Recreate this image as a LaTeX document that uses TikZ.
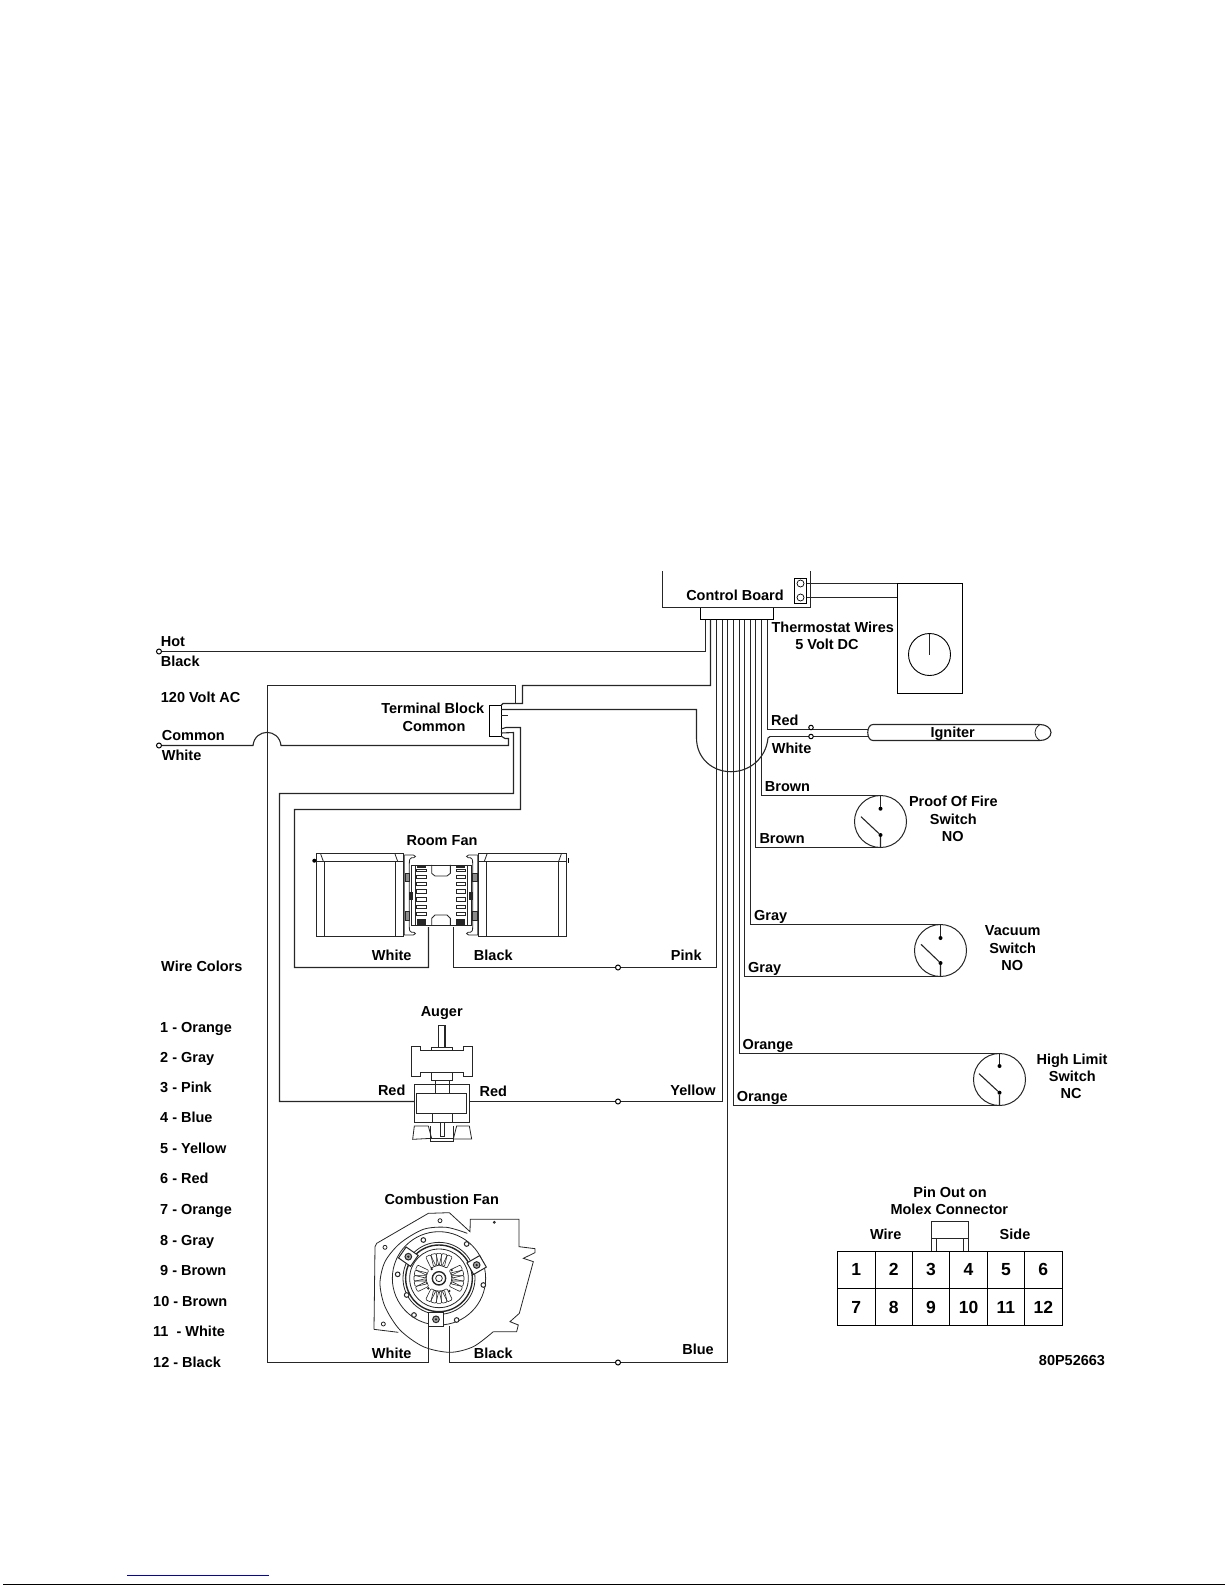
\documentclass[tikz,border=0pt]{standalone}
\usepackage{fontspec}
\setmainfont{Liberation Sans}
\tikzset{
	lbl/.style={font=\fontsize{14.5}{16}\selectfont\bfseries,inner sep=0,text height=10.4pt,text depth=0pt},
	wire/.style={line width=1.1pt,black!85},
	thin wire/.style={line width=.8pt,black!85},
	nut/.style={circle,draw,line width=1pt,fill=white,inner sep=0,minimum size=5pt},
	sw/.style={circle,draw,line width=1pt,black!85,inner sep=0,minimum size=52pt,outer sep=0},
	contact/.style={circle,fill=black,inner sep=0,minimum size=4pt},
	cell/.style={draw,line width=1pt,inner sep=0,minimum size=37.4pt,outer sep=0,font=\fontsize{17.5}{20}\selectfont\bfseries}
}
\begin{document}
\begin{tikzpicture}[x=1pt,y=-1pt]
	\useasboundingbox (0,0) rectangle (1225,1585);

	\foreach \p/\px in {1/705.5,2/710.5,3/716.5,4/722.5,5/727.5,6/733.5,7/739.5,8/744.5,9/750.5,10/755.5,11/761.5,12/767.5}
		\coordinate (pin\p) at (\px,619.5);

	\coordinate (boardtl) at (662.5,571);
	\coordinate (boardtr) at (810.5,571);
	\node [draw,line width=1pt,minimum width=73pt,minimum height=12pt,inner sep=0,outer sep=0] (molex) at (736.5,613.5) {};
	\draw [wire] (boardtl) |- (boardtr |- molex.north) -- (boardtr);
	\node [lbl] (boardlbl) at (735,595) {Control Board};
	\node [draw,line width=1pt,minimum width=12pt,minimum height=25pt,inner sep=0,outer sep=0] (tstrip) at (800.5,590.5) {};
	\node [circle,draw,line width=.7pt,inner sep=0,minimum size=7pt] (screwa) at (800.5,583.5) {};
	\node [circle,draw,line width=.7pt,inner sep=0,minimum size=7pt] (screwb) at (800.5,597.5) {};
	\node [draw,line width=1pt,minimum width=65pt,minimum height=110pt,inner sep=0,outer sep=0] (tstat) at (929.5,638.5) {};
	\node [circle,draw,line width=.9pt,inner sep=0,minimum size=42pt,outer sep=0] (dial) at (929.5,654.5) {};
	\draw [wire] (dial.north) -- (dial.center);
	\draw [wire] (tstrip.east |- screwa) -- (tstat.west |- screwa);
	\draw [wire] (tstrip.east |- screwb) -- (tstat.west |- screwb);
	\node [lbl] (tstatlbl) at (832.7,627) {Thermostat Wires};
	\node [lbl] (voltlbl) at (827,644.7) {5 Volt DC};

	\node [draw,line width=1pt,minimum width=12pt,minimum height=31pt,inner sep=0,outer sep=0] (tblock) at (495,720.5) {};
	\node [lbl] (tblbl) at (432.7,708.7) {Terminal Block};
	\node [lbl] (tblbltwo) at (434,726) {Common};

	\node [nut] (hotnut) at (159,651.5) {};
	\node [nut] (comnut) at (159,745.5) {};
	\node [lbl,anchor=west] (hotlbl) at (160.7,641.7) {Hot};
	\node [lbl,anchor=west] (blacklbl) at (160.7,661.7) {Black};
	\node [lbl,anchor=west] (acelbl) at (160.7,697) {120 Volt AC};
	\node [lbl,anchor=west] (comlbl) at (161.7,735.7) {Common};
	\node [lbl,anchor=west] (whitelbl) at (161.7,755.7) {White};

	\draw [wire] (pin1) |- (hotnut);

	\coordinate (tbtop) at (503,703.5);
	\coordinate (roomw) at (428.5,927);
	\coordinate (roomb) at (453.5,927);
	\coordinate (augl) at (414,1101.5);
	\coordinate (augr) at (469,1101.5);
	\coordinate (combw) at (428.5,1326);
	\coordinate (combb) at (449.5,1326);
	\node [nut] (pinknut) at (618,967.5) {};
	\node [nut] (yelnut) at (618,1101.5) {};
	\node [nut] (bluenut) at (618,1362.5) {};

	\draw [wire] (pin2) |- (522.5,685.5) -- (522.5,703.5) -- (tbtop) -- (tblock.east |- 0,705.5);
	\draw [wire] (combw) -- (combw |- bluenut) -- (267.5,1362.5) -- (267.5,685.5) -| (515.5,703.5);
	\draw [wire] (comnut) -- (253,745.5) .. controls (255,728) and (279,728) .. (281,745.5) -| (508.5,738.5) -- (505,738.5) -- (tblock.east |- 0,736);
	\coordinate (whitestart) at (770,736.5);
	\draw [wire] (tblock.east |- 0,709.5) -- (696.5,709.5) -- (696.5,738) .. controls (696.5,758) and (712,771.7) .. (731,771.7) .. controls (750,771.7) and (766,758) .. (768,738) -- (whitestart);
	\draw [thin wire] (tblock.east |- 0,715) -- (508,715);
	\draw [wire] (tblock.east |- 0,729) -- (506,727.5) -- (520.5,727.5) |- (294.5,809.5) |- (roomw |- pinknut) -- (roomw);
	\draw [wire] (tblock.east |- 0,733) -- (513.5,732.5) |- (279.5,793.5) |- (augl);

	\draw [wire] (pin3) |- (pinknut) -- (roomb |- pinknut) -- (roomb);
	\draw [wire] (pin4) |- (yelnut) -- (augr);
	\draw [wire] (pin5) |- (bluenut) -- (combb |- bluenut) -- (combb);

	\node [lbl] (pinklbl) at (686.3,955) {Pink};
	\node [lbl] (yellbl) at (693,1090) {Yellow};
	\node [lbl] (bluelbl) at (698,1349) {Blue};
	\node [lbl] (roomlbl) at (442,840) {Room Fan};
	\node [lbl] (roomwlbl) at (391.7,955.3) {White};
	\node [lbl] (roomblbl) at (493.3,955.3) {Black};
	\node [lbl] (auglbl) at (441.7,1011.7) {Auger};
	\node [lbl] (redl) at (391.7,1090.7) {Red};
	\node [lbl] (redr) at (493.3,1091) {Red};
	\node [lbl] (comblbl) at (441.7,1199) {Combustion Fan};
	\node [lbl] (combwlbl) at (391.7,1353) {White};
	\node [lbl] (combblbl) at (493.3,1353) {Black};

	\coordinate (redend) at (868,729.5);
	\coordinate (whiteend) at (868,736.5);
	\draw [wire] (pin12) |- (redend);
	\draw [wire] (whitestart) -- (whiteend);
	\node [nut,minimum size=4.5pt] (rednut) at (811,727.5) {};
	\node [nut,minimum size=4.5pt] (whtnut) at (811,736.5) {};
	\draw [wire] (873,724.5) -- (1040,724.5) .. controls (1046,724.5) and (1051,728) .. (1051,732.5) .. controls (1051,737) and (1046,740.5) .. (1040,740.5) -- (873,740.5) .. controls (866,740.5) and (866,724.5) .. (873,724.5);
	\draw [thin wire] (1040,724.5) .. controls (1036,727) and (1035,730) .. (1035,732.5) .. controls (1035,735) and (1036,738) .. (1040,740.5);
	\node [lbl] (ignlbl) at (952.7,732.3) {Igniter};
	\node [lbl,anchor=west] (redig) at (771,720.3) {Red};
	\node [lbl,anchor=west] (whtig) at (771.7,748) {White};

	\foreach \s/\sx/\sy/\topy/\boty/\levx/\levy in {a/880.5/821.5/808.7/835/861/816.7,b/940.5/950.5/938/963/921/944.3,c/999.5/1079.5/1066/1092.7/979/1073.7} {
		\node [sw] (sw\s) at (\sx,\sy) {};
		\node [contact] (sw\s top) at (\sx,\topy) {};
		\node [contact] (sw\s bot) at (\sx,\boty) {};
		\coordinate (sw\s lev) at (\levx,\levy);
		\draw [wire] (sw\s.north) -- (sw\s top);
		\draw [wire] (sw\s.south) -- (sw\s bot) -- (sw\s lev);
	}
	\draw [wire] (pin11) |- (swa.north);
	\draw [wire] (pin10) |- (swa.south);
	\draw [wire] (pin9) |- (swb.north);
	\draw [wire] (pin8) |- (swb.south);
	\draw [wire] (pin7) |- (swc.north);
	\draw [wire] (pin6) |- (swc.south);

	\node [lbl,anchor=west] (brna) at (764.7,786.7) {Brown};
	\node [lbl,anchor=west] (brnb) at (759.3,838.7) {Brown};
	\node [lbl,anchor=west] (grya) at (754,915.7) {Gray};
	\node [lbl,anchor=west] (gryb) at (748,967) {Gray};
	\node [lbl,anchor=west] (orga) at (742.3,1044) {Orange};
	\node [lbl,anchor=west] (orgb) at (736.7,1096) {Orange};
	\node [lbl] (pofa) at (953.3,801.3) {Proof Of Fire};
	\node [lbl] (pofb) at (953.3,819.3) {Switch};
	\node [lbl] (pofc) at (952.7,836.7) {NO};
	\node [lbl] (vaca) at (1012.7,930.7) {Vacuum};
	\node [lbl] (vacb) at (1012.7,948) {Switch};
	\node [lbl] (vacc) at (1012.3,965.3) {NO};
	\node [lbl] (hila) at (1072,1059) {High Limit};
	\node [lbl] (hilb) at (1072.3,1076.3) {Switch};
	\node [lbl] (hilc) at (1071,1093.7) {NC};

	\node [lbl,anchor=west] (wirecolors) at (161,966) {Wire Colors};
	\foreach \txt/\xpos/\ypos [count=\c] in {{1 - Orange}/160/1027.3,{2 - Gray}/160/1057.3,{3 - Pink}/160/1087.3,{4 - Blue}/160/1117.3,{5 - Yellow}/160/1148.3,{6 - Red}/160/1178.3,{7 - Orange}/160/1209.3,{8 - Gray}/160/1240.7,{9 - Brown}/160/1270.3,{10 - Brown}/153/1301.3,{11\ \ - White}/153/1331,{12 - Black}/153/1362}
		\node [lbl,anchor=west] (color\c) at (\xpos,\ypos) {\txt};

	\foreach \n [evaluate=\n as \m using int(\n+6)] in {1,...,6} {
		\node [cell] (cell\n) at ({818.9+37.4*\n},1269.8) {\n};
		\node [cell] (cell\m) at ({818.9+37.4*\n},1307.2) {\m};
	}
	\draw [wire] (cell3.north) -- ++(0,-30) -| (cell4.north);
	\draw [wire] (cell3.north) ++(0,-13) -- ++(37.4,0);
	\draw [thin wire] (cell3.north) ++(5.3,-13) -- ++(0,13);
	\draw [thin wire] (cell4.north) ++(-5.3,-13) -- ++(0,13);
	\node [lbl] (pina) at (950,1192.3) {Pin Out on};
	\node [lbl] (pinb) at (949.3,1209.7) {Molex Connector};
	\node [lbl] (sidea) at (885.7,1234) {Wire};
	\node [lbl] (sideb) at (1015,1234) {Side};
	\node [lbl] (partno) at (1072,1360.3) {80P52663};

	\foreach \fx/\fs in {280/.3333,602/-.3333} {
	\begin{scope}[shift={(\fx,670)},x=\fs pt,y=-.3333pt,thin wire]
		\draw (108,550) rectangle (370,798);
		\draw (108,574) -- (370,574);
		\draw (132,574) -- (132,798);
		\draw (347,574) -- (347,798);
		\draw (122,552) -- (130,574);
		\draw (345,552) -- (353,574);
		\draw (373,555) -- (400,555) .. controls (408,555) and (408,563) .. (402,563) -- (395,563) .. controls (389,563) and (388,570) .. (388,582);
		\draw (373,555) -- (373,795) -- (400,795) .. controls (408,795) and (408,787) .. (402,787) -- (395,787) .. controls (389,787) and (388,780) .. (388,770) -- (388,582);
		\draw (393,585) -- (483,585);
		\draw (393,767) -- (483,767);
		\draw (393,585) -- (393,767);
		\draw (405,585) -- (405,767);
		\draw [fill=black!45] (375,610) rectangle (388,635);
		\draw [fill=black!45] (375,725) rectangle (388,750);
		\fill (388,665) rectangle (400,690);
		\fill (410,585) rectangle (438,594);
		\fill (410,747) rectangle (438,765);
		\foreach \ra/\rb in {598/605,617/625,637/645,658/670,683/695,705/715,727/735}
			\draw (410,\ra) rectangle (438,\rb);
		\draw (455,585) -- (455,610) -- (465,618) -- (483,618);
		\draw (455,767) -- (455,745) -- (465,735) -- (483,735);
	\end{scope}
	}
	\fill (314.3,860.7) circle (2);
	\draw [line width=1.4pt] (568.5,858) -- (568.5,863);

	\begin{scope}[shift={(360,1000)},x=.3333pt,y=-.3333pt,thin wire]
		\draw (234,75) rectangle (255,142);
		\draw [line width=1.5pt] (255,75) -- (255,142);
		\draw (213,142) rectangle (276,152);
		\draw (153,138) -- (180,138) -- (180,152) -- (310,152) -- (310,138) -- (337,138) -- (337,228) -- (310,228) -- (310,216) -- (180,216) -- (180,228) -- (153,228) -- cycle;
		\draw (213,216) rectangle (276,240);
		\draw (227,240) rectangle (267,280);
		\draw (163,253) rectangle (327,367);
		\draw [wire] (170,280) rectangle (320,340);
		\draw (218,340) -- (218,367);
		\draw (276,340) -- (276,367);
		\draw (163,378) -- (205,378) -- (215,415) -- (158,418) -- cycle;
		\draw (290,378) -- (328,378) -- (335,417) -- (280,417) -- cycle;
		\draw (212,378) -- (212,425) -- (280,425) -- (280,378);
		\draw (212,415) -- (280,415);
		\draw (240,368) rectangle (254,408);
	\end{scope}

	\begin{scope}[shift={(360,1190)},x=.3333pt,y=-.3333pt,thin wire]
		\draw (42,418) -- (45,170) -- (50,160) -- (205,70) -- (268,68) -- (330,125) -- (331,88) -- (477,88) -- (477,170) -- (525,176) -- (525,188) -- (490,205) -- (520,215) -- (478,370) -- (450,395) -- (475,405) -- (470,425) -- (400,425);
		\draw (42,418) -- (115,427);
		\draw plot [smooth] coordinates {(322,130) (260,112) (190,118) (120,160) (75,215) (60,280) (75,350) (120,420) (190,470) (270,487) (340,470) (400,425)};
		\draw (240,92) circle (6);
		\draw (75,172) circle (6);
		\draw (70,402) circle (6);
		\draw (403,97) circle (3);
		\draw (237,265) circle (140);
		\draw [line width=1.4pt] (237,265) circle (100);
		\draw (237,265) circle (108);
		\draw (237,265) circle (88);
		\draw (237,265) circle (10);
		\draw [line width=1.4pt] (237,265) circle (20);
		\foreach \gr in {0,90,180,270}
			\foreach \da in {-26,-13,0,13,26}
				\draw [line width=.6pt,rounded corners=1pt,rotate around={\gr+\da:(237,265)}] (275,257) rectangle (312,273);
		\foreach \bx/\by in {190/150,320/162,113/253,370/285,290/390,162/375,140/315}
			\draw [line width=1pt,fill=white] (\bx,\by) circle (7);
		\foreach \dx/\dy in {215/237,275/240,205/295,268/303}
			\fill (\dx,\dy) circle (4);
		\foreach \tx/\ty/\ta in {145/200/-35,350/225/30,228/388/0} {
			\draw [line width=1pt,fill=white,rotate around={\ta:(\tx,\ty)}] (\tx-22,\ty-20) rectangle (\tx+22,\ty+20);
			\draw [line width=1pt,fill=black!35] (\tx,\ty) circle (10);
			\fill (\tx,\ty) circle (4);
		}
	\end{scope}

	\draw [line width=1pt,blue!80!black] (127,1575.5) -- (268.7,1575.5);
	\draw [line width=1.5pt] (3,1584.3) -- (1225,1584.3);
\end{tikzpicture}
\end{document}
